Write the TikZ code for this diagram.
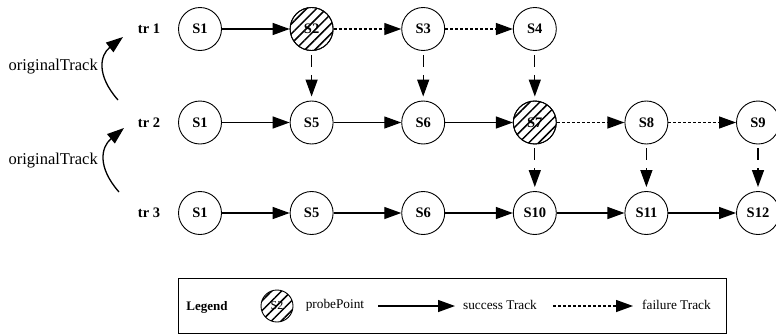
\documentclass[tikz,border=0pt]{standalone}
\usepackage{fontspec}
\setmainfont{Liberation Serif}
\usetikzlibrary{arrows.meta,patterns.meta}
\begin{document}
\begin{tikzpicture}[x=1pt,y=-1pt,
 st/.style={circle,draw,line width=0.9pt,minimum size=43pt,inner sep=0pt,font=\fontsize{14.5}{16}\selectfont\bfseries},
 lbl/.style={font=\fontsize{14.5}{16}\selectfont\bfseries},
 txt/.style={font=\fontsize{13.3}{15}\selectfont,inner sep=0pt},
 big/.style={font=\fontsize{16.5}{18}\selectfont,inner sep=0pt},
 tipped/.style={-{Triangle[length=17pt,width=12pt]}},
 succ/.style={tipped,line width=1.3pt},
 fail/.style={tipped,line width=1.3pt,dash pattern=on 3pt off 2pt},
 down/.style={tipped,line width=1.3pt,dash pattern=on 12pt off 8pt,shorten <=4pt,shorten >=4pt},
 hatch/.style={pattern={Lines[angle=45,distance=7pt,line width=1.5pt]}},
 curvearrow/.style={-{Triangle[length=17pt,width=12pt]},line width=1.3pt}
]
\useasboundingbox (0,0) rectangle (776,335);
% row labels
\node[lbl] (t1) at (149,29) {tr 1};
\node[lbl] (t2) at (149,122.5) {tr 2};
\node[lbl] (t3) at (149,213) {tr 3};
% row 1
\node[st] (a1) at (200,29) {S1};
\node[st] (a2) at (311.6,29) {S2};
\node[st] (a3) at (423.2,29) {S3};
\node[st] (a4) at (534.8,29) {S4};
% row 2
\node[st] (b1) at (200,122.5) {S1};
\node[st] (b2) at (311.6,122.5) {S5};
\node[st] (b3) at (423.2,122.5) {S6};
\node[st] (b4) at (534.8,122.5) {S7};
\node[st] (b5) at (646.4,122.5) {S8};
\node[st] (b6) at (758,122.5) {S9};
% row 3
\node[st] (c1) at (200,213) {S1};
\node[st] (c2) at (311.6,213) {S5};
\node[st] (c3) at (423.2,213) {S6};
\node[st] (c4) at (534.8,213) {S10};
\node[st] (c5) at (646.4,213) {S11};
\node[st] (c6) at (758,213) {S12};
% hatching of probe points
\path[hatch] (a2.center) circle[radius=21.5pt];
\path[hatch] (b4.center) circle[radius=21.5pt];
\draw[line width=0.9pt] (a2.center) circle[radius=21.5pt];
\draw[line width=0.9pt] (b4.center) circle[radius=21.5pt];
% horizontal arrows
\draw[succ] (a1) -- (a2);
\draw[fail] (a2) -- (a3);
\draw[fail] (a3) -- (a4);
\draw[succ] (b1) -- (b2);
\draw[succ] (b2) -- (b3);
\draw[succ] (b3) -- (b4);
\draw[fail] (b4) -- (b5);
\draw[fail] (b5) -- (b6);
\draw[succ] (c1) -- (c2);
\draw[succ] (c2) -- (c3);
\draw[succ] (c3) -- (c4);
\draw[succ] (c4) -- (c5);
\draw[succ] (c5) -- (c6);
% vertical arrows
\draw[down] (a2) -- (b2);
\draw[down] (a3) -- (b3);
\draw[down] (a4) -- (b4);
\draw[down] (b4) -- (c4);
\draw[down] (b5) -- (c5);
\draw[down] (b6) -- (c6);
% originalTrack
\coordinate (o1s) at (118,100);
\coordinate (o1e) at (123,37);
\coordinate (o2s) at (119,192);
\coordinate (o2e) at (124,128);
\draw[curvearrow] (o1s) .. controls (96,75) and (100,55) .. (o1e);
\draw[curvearrow] (o2s) .. controls (97,167) and (101,147) .. (o2e);
\node[big,anchor=east] (ot1) at (98,67) {originalTrack};
\node[big,anchor=east] (ot2) at (98,161) {originalTrack};
% legend
\node[draw,line width=0.9pt,minimum width=548.7pt,minimum height=55pt,inner sep=0pt] (leg) at (452.35,305.5) {};
\node[txt,font=\fontsize{13}{15}\selectfont\bfseries] (legt) at (207,307) {Legend};
\node[circle,draw,line width=0.9pt,minimum size=32pt,inner sep=0pt,font=\fontsize{12}{14}\selectfont] (lp) at (277,306) {S2};
\path[hatch] (lp.center) circle[radius=16pt];
\node[txt] (pp) at (335,305) {probePoint};
\coordinate (ls1) at (378,306);
\coordinate (ls2) at (455,306);
\draw[succ] (ls1) -- (ls2);
\node[txt] (sc) at (500,305) {success Track};
\coordinate (lf1) at (553,306);
\coordinate (lf2) at (633,306);
\draw[fail] (lf1) -- (lf2);
\node[txt,anchor=west] (fl) at (642,305) {failure Track};
\end{tikzpicture}
\end{document}
